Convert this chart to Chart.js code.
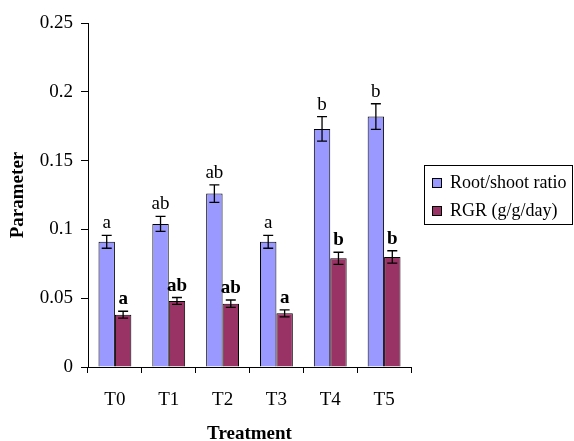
<!DOCTYPE html>
<html>
<head>
<meta charset="utf-8">
<script src="https://cdn.jsdelivr.net/npm/chart.js@4/dist/chart.umd.min.js"></script>
<style>
  body { margin: 0; background: white; }
  #wrap { width: 574px; height: 441px; }
</style>
</head>
<body>
<div id="wrap"><canvas id="myChart" width="574" height="441"></canvas></div>
<script>
const categories = ['T0', 'T1', 'T2', 'T3', 'T4', 'T5']
const rootShoot = [0.091, 0.104, 0.126, 0.091, 0.173, 0.182]
const rootShootErr = [0.0047, 0.0055, 0.0063, 0.0047, 0.0089, 0.0093]
const rootShootLetters = ['a', 'ab', 'ab', 'a', 'b', 'b']
const rgr = [0.038, 0.048, 0.046, 0.039, 0.079, 0.080]
const rgrErr = [0.0025, 0.0025, 0.0027, 0.0025, 0.0044, 0.0045]
const rgrLetters = ['a', 'ab', 'ab', 'a', 'b', 'b']
const yTicks = [0, 0.05, 0.1, 0.15, 0.2, 0.25]
const yTickLabels = ['0', '0.05', '0.1', '0.15', '0.2', '0.25']

const serif = '"Liberation Serif", "Times New Roman", serif'
const errors = [rootShootErr, rgrErr]
const letters = [rootShootLetters, rgrLetters]

// error bars + significance letters
const errorBars = {
  id: 'errorBars',
  afterDatasetsDraw(chart) {
    const ctx = chart.ctx
    const y = chart.scales.y
    ctx.save()
    chart.data.datasets.forEach((ds, di) => {
      const meta = chart.getDatasetMeta(di)
      meta.data.forEach((bar, i) => {
        const v = ds.data[i]
        const e = errors[di][i]
        const yt = y.getPixelForValue(v + e)
        const yb = y.getPixelForValue(v - e)
        const x = bar.x
        ctx.strokeStyle = '#000'
        ctx.lineWidth = 1.3
        ctx.beginPath()
        ctx.moveTo(x, yt); ctx.lineTo(x, yb)
        ctx.moveTo(x - 5, yt); ctx.lineTo(x + 5, yt)
        ctx.moveTo(x - 5, yb); ctx.lineTo(x + 5, yb)
        ctx.stroke()
        ctx.fillStyle = '#000'
        ctx.font = (di === 1 ? 'bold ' : '') + '19px ' + serif
        ctx.textAlign = 'center'
        ctx.textBaseline = 'alphabetic'
        ctx.fillText(letters[di][i], x, yt - 7)
      })
    })
    ctx.restore()
  }
}

// boxed legend on the right
const boxLegend = {
  id: 'boxLegend',
  afterDraw(chart) {
    const ctx = chart.ctx
    ctx.save()
    ctx.strokeStyle = '#000'
    ctx.lineWidth = 1
    ctx.strokeRect(424.5, 165.5, 148, 59)
    ctx.font = '18px ' + serif
    ctx.textBaseline = 'middle'
    ctx.textAlign = 'left'
    chart.data.datasets.forEach((ds, i) => {
      const yc = 183 + i * 28
      ctx.fillStyle = ds.backgroundColor
      ctx.fillRect(432, yc - 5, 10, 10)
      ctx.strokeRect(432.5, yc - 4.5, 9, 9)
      ctx.fillStyle = '#000'
      ctx.fillText(ds.label, 450, yc)
    })
    ctx.restore()
  }
}

const config = {
  type: 'bar',
  data: {
    labels: categories,
    datasets: [
      { label: 'Root/shoot ratio', data: rootShoot, backgroundColor: '#9999FF', borderColor: '#000', borderWidth: 1 },
      { label: 'RGR (g/g/day)', data: rgr, backgroundColor: '#993366', borderColor: '#000', borderWidth: 1 }
    ]
  },
  options: {
    responsive: false,
    animation: false,
    layout: { padding: { left: 0, right: 163, top: 23, bottom: 0 } },
    plugins: { legend: { display: false }, tooltip: { enabled: false } },
    datasets: { bar: { categoryPercentage: 0.61, barPercentage: 1 } },
    scales: {
      x: {
        grid: { display: true, drawOnChartArea: false, color: '#000', tickLength: 6, offset: true },
        border: { color: '#000', width: 1 },
        ticks: { color: '#000', font: { family: serif, size: 19 }, padding: 16 },
        title: { display: true, text: 'Treatment', color: '#000', font: { family: serif, size: 19, weight: 'bold', lineHeight: 0.74 }, padding: 0 },
        afterFit(s) { s.height = 74 }
      },
      y: {
        min: 0,
        max: 0.25,
        grid: { drawOnChartArea: false, color: '#000', tickLength: 7 },
        border: { color: '#000', width: 1 },
        afterBuildTicks(s) { s.ticks = yTicks.map(v => ({ value: v })) },
        ticks: {
          color: '#000', font: { family: serif, size: 19 }, padding: 8,
          callback: (v) => yTickLabels[yTicks.indexOf(v)]
        },
        title: { display: true, text: 'Parameter', color: '#000', font: { family: serif, size: 19, weight: 'bold' }, padding: { top: 7, bottom: 0 } },
        afterFit(s) { s.width = 88 }
      }
    }
  },
  plugins: [errorBars, boxLegend]
}

new Chart(document.getElementById('myChart').getContext('2d'), config)
</script>
</body>
</html>
